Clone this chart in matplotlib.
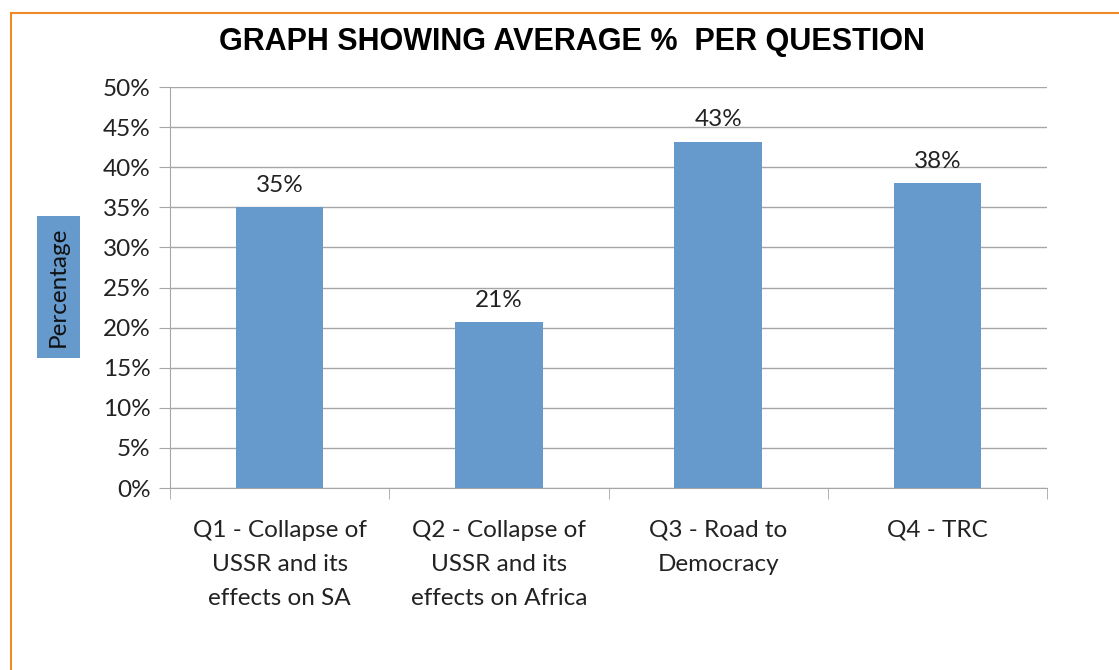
import numpy as np
import matplotlib.pyplot as plt
from matplotlib.lines import Line2D

categories = ['Q1 - Collapse of\nUSSR and its\neffects on SA',
              'Q2 - Collapse of\nUSSR and its\neffects on Africa',
              'Q3 - Road to\nDemocracy',
              'Q4 - TRC']
values = [35.0, 20.7, 43.2, 38.0]
labels = ['35%', '21%', '43%', '38%']
yticks = np.arange(0, 51, 5)

plt.rcParams['font.family'] = ['Lato', 'DejaVu Sans']

fig = plt.figure(figsize=(11.19, 6.70), dpi=100)
ax = fig.add_axes([0.1519, 0.2716, 0.7838, 0.5985])

x = np.arange(len(categories))
ax.bar(x, values, width=0.4, color='#6699cc', zorder=3)
for xi, v, lab in zip(x, values, labels):
    ax.text(xi, v + 1.4, lab, ha='center', va='bottom', fontsize=17.5, color='#222222')

ax.set_xlim(-0.5, len(categories) - 0.5)
ax.set_ylim(0, 50)
ax.set_yticks(yticks)
ax.set_yticklabels(['%d%%' % t for t in yticks], fontsize=17.5, color='#222222')
ax.yaxis.grid(True, color='#a6a6a6', linewidth=1, zorder=0)
ax.tick_params(axis='y', length=8, color='#a6a6a6', pad=6)

ax.set_xticks(x)
ax.set_xticklabels(categories, fontsize=17.5, color='#222222', linespacing=1.78)
ax.set_xticks(np.arange(-0.5, len(categories)), minor=True)
ax.tick_params(axis='x', which='major', length=0, pad=23)
ax.tick_params(axis='x', which='minor', length=8, color='#a6a6a6')

for side in ['top', 'right']:
    ax.spines[side].set_visible(False)
for side in ['left', 'bottom']:
    ax.spines[side].set_color('#a6a6a6')

fig.text(0.511, 0.937, 'GRAPH SHOWING AVERAGE %  PER QUESTION', ha='center', va='center',
         fontsize=22, fontweight='bold', family='Liberation Sans')

fig.text(0.052, 0.572, 'Percentage', rotation=90, ha='center', va='center', fontsize=17.5,
         color='#111111',
         bbox=dict(boxstyle='square,pad=0.45', facecolor='#6699cc', edgecolor='none'))

# orange frame (top and left edges)
fig.add_artist(Line2D([0.0098, 1.0], [0.981, 0.981], color='#f08a24', linewidth=1.5))
fig.add_artist(Line2D([0.0098, 0.0098], [0.0, 0.981], color='#f08a24', linewidth=1.5))

fig.savefig('out.png', dpi=100)
